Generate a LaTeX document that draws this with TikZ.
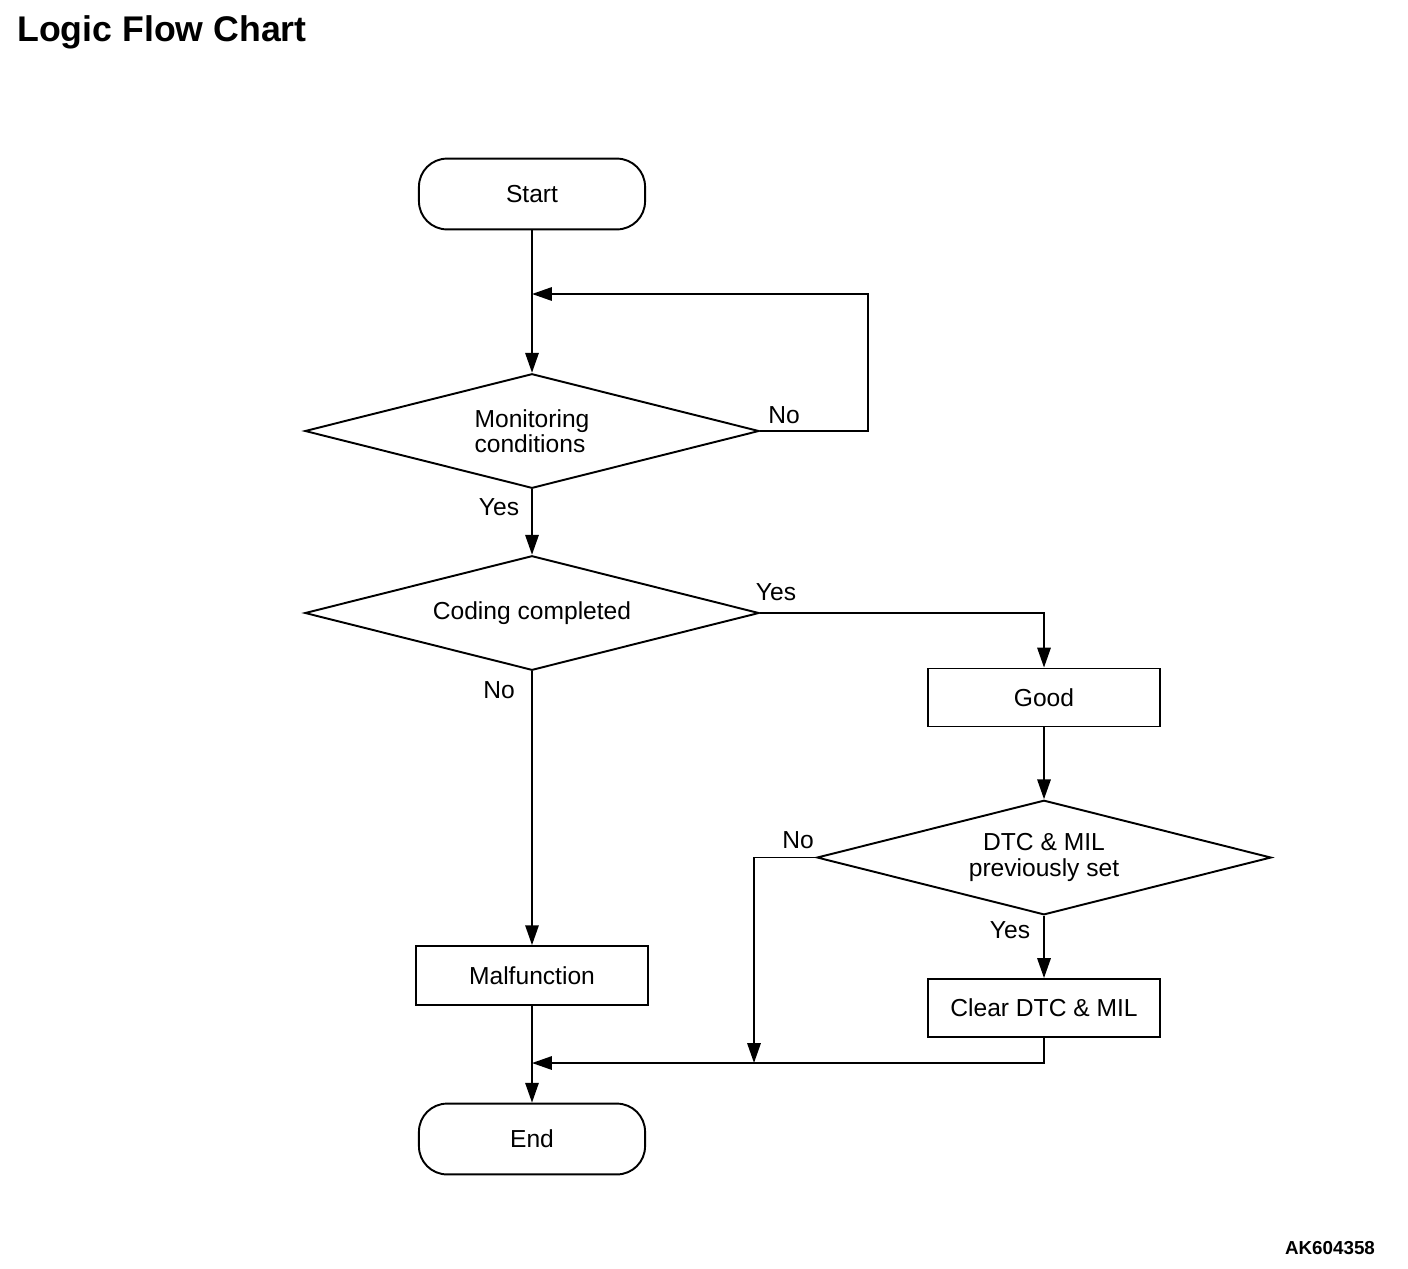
\documentclass[tikz,border=0pt]{standalone}
\usepackage{fontspec}
\setmainfont{Liberation Sans}
\usetikzlibrary{shapes.geometric,arrows.meta}
\tikzset{
  term/.style={draw, line width=1.1pt, rounded corners=16pt, minimum width=128.7pt, minimum height=40.3pt, inner sep=0pt},
  proc/.style={draw, line width=1.1pt, minimum width=132pt, minimum height=33pt, inner sep=0pt},
  decide/.style={draw, diamond, line width=1.1pt, shape aspect=4, minimum width=258.5pt, minimum height=65.2pt, inner sep=0pt, align=center},
  arr/.style={line width=1.1pt, -{Triangle[length=11.3pt,width=7.6pt]}},
  lbl/.style={inner sep=0pt}
}
\begin{document}
\begin{tikzpicture}[x=0.02cm, y=-0.02cm, font=\fontsize{14}{14.5}\selectfont]
\useasboundingbox (0,0) rectangle (1408,1268);
\node[lbl, anchor=base west, font=\fontsize{20.3}{22}\selectfont\bfseries] (title) at (17,41) {Logic Flow Chart};
\node[term] (start) at (532,194) {Start};
\node[decide, align=left] (mon) at (532,431) {Monitoring\\conditions};
\node[decide] (cod) at (532,613) {Coding completed};
\node[proc] (good) at (1044,697.5) {Good};
\node[decide] (dtc) at (1044,857.5) {DTC \& MIL\\previously set};
\node[proc] (clr) at (1044,1008) {Clear DTC \& MIL};
\node[proc, minimum height=33.5pt] (mal) at (532,975.5) {Malfunction};
\node[term] (end) at (532,1139) {End};
\coordinate (loopin) at (532,294);
\coordinate (loopcorner) at (868,294);
\coordinate (nojoin) at (754,1063);
\coordinate (endin) at (532,1063);
\draw[arr] (start) -- (mon.north);
\draw[arr] (mon.east) -| (loopcorner) -- (loopin);
\draw[arr] (mon.south) -- (cod.north);
\draw[arr] (cod.east) -| (good.north);
\draw[arr] (cod.south) -- (mal.north);
\draw[arr] (good.south) -- (dtc.north);
\draw[arr] (dtc.south) -- (clr.north);
\draw[arr] (dtc.west) -| (nojoin);
\draw[arr] (clr.south) |- (endin);
\draw[arr] (mal.south) -- (end.north);
\node[lbl] (monno) at (784,415) {No};
\node[lbl] (monyes) at (499,507) {Yes};
\node[lbl] (codyes) at (776,592) {Yes};
\node[lbl] (codno) at (499,690) {No};
\node[lbl] (dtcno) at (798,840) {No};
\node[lbl] (dtcyes) at (1010,930) {Yes};
\node[lbl, font=\fontsize{10.7}{12}\selectfont\bfseries] (code) at (1330,1248) {AK604358};
\end{tikzpicture}
\end{document}
